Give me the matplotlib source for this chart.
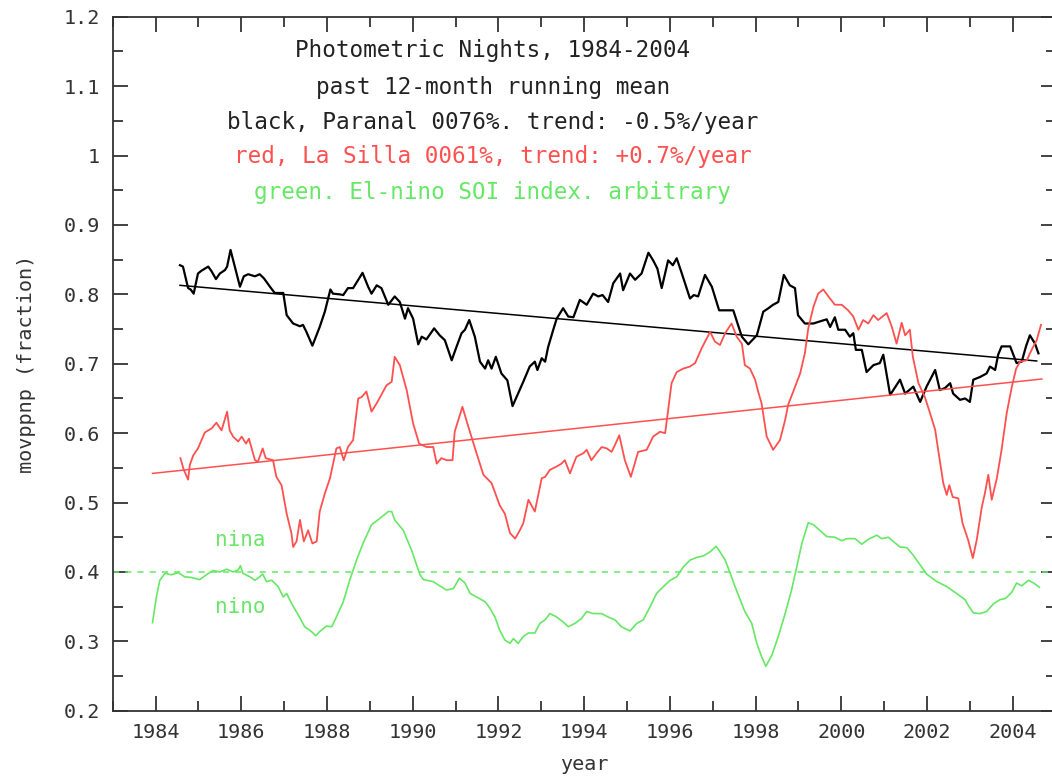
# Photometric nights, Paranal / La Silla vs El-nino SOI
import numpy as np
import matplotlib
matplotlib.use('Agg')
import matplotlib.pyplot as plt
from matplotlib.ticker import MultipleLocator, FuncFormatter

# black: Paranal 12-month running mean
paranal_year = [1984.57, 1984.64, 1984.76, 1984.82, 1984.89, 1984.99, 1985.07, 1985.23, 1985.31, 1985.41,
                1985.50, 1985.62, 1985.67, 1985.75, 1985.85, 1985.97, 1986.06, 1986.16, 1986.32, 1986.43,
                1986.53, 1986.67, 1986.78, 1986.98, 1987.06, 1987.21, 1987.37, 1987.44, 1987.52, 1987.66,
                1987.83, 1987.95, 1988.08, 1988.14, 1988.30, 1988.38, 1988.49, 1988.61, 1988.83, 1988.96,
                1989.04, 1989.16, 1989.27, 1989.43, 1989.58, 1989.70, 1989.82, 1989.89, 1990.01, 1990.13,
                1990.21, 1990.32, 1990.50, 1990.63, 1990.75, 1990.91, 1991.02, 1991.14, 1991.22, 1991.32,
                1991.45, 1991.57, 1991.69, 1991.76, 1991.84, 1991.94, 1992.07, 1992.21, 1992.33, 1992.46,
                1992.58, 1992.73, 1992.85, 1992.91, 1993.01, 1993.09, 1993.16, 1993.28, 1993.36, 1993.51,
                1993.63, 1993.75, 1993.90, 1994.06, 1994.21, 1994.33, 1994.43, 1994.56, 1994.68, 1994.84,
                1994.91, 1995.07, 1995.19, 1995.34, 1995.50, 1995.61, 1995.71, 1995.81, 1995.96, 1996.07,
                1996.16, 1996.28, 1996.47, 1996.56, 1996.66, 1996.82, 1996.98, 1997.15, 1997.48, 1997.68,
                1997.83, 1998.03, 1998.18, 1998.30, 1998.41, 1998.53, 1998.66, 1998.80, 1998.92, 1998.99,
                1999.15, 1999.35, 1999.50, 1999.66, 1999.74, 1999.85, 1999.93, 2000.09, 2000.20, 2000.28,
                2000.34, 2000.48, 2000.59, 2000.75, 2000.90, 2000.98, 2001.14, 2001.37, 2001.49, 2001.68,
                2001.84, 2001.99, 2002.19, 2002.30, 2002.42, 2002.54, 2002.61, 2002.77, 2002.89, 2003.00,
                2003.08, 2003.24, 2003.39, 2003.47, 2003.59, 2003.66, 2003.74, 2003.94, 2004.09, 2004.21,
                2004.31, 2004.40, 2004.52, 2004.60]
paranal = [0.842, 0.840, 0.809, 0.807, 0.801, 0.830, 0.834, 0.840, 0.833, 0.822,
           0.830, 0.835, 0.840, 0.864, 0.840, 0.811, 0.826, 0.829, 0.826, 0.829,
           0.823, 0.811, 0.802, 0.802, 0.770, 0.758, 0.754, 0.756, 0.746, 0.726,
           0.753, 0.775, 0.807, 0.801, 0.800, 0.799, 0.809, 0.809, 0.831, 0.811,
           0.801, 0.813, 0.809, 0.785, 0.797, 0.789, 0.765, 0.780, 0.765, 0.728,
           0.739, 0.735, 0.751, 0.741, 0.734, 0.705, 0.724, 0.744, 0.749, 0.763,
           0.739, 0.703, 0.693, 0.705, 0.693, 0.710, 0.686, 0.676, 0.639, 0.657,
           0.674, 0.696, 0.703, 0.691, 0.708, 0.703, 0.724, 0.749, 0.765, 0.780,
           0.768, 0.767, 0.792, 0.785, 0.801, 0.797, 0.799, 0.789, 0.816, 0.830,
           0.806, 0.830, 0.821, 0.830, 0.860, 0.849, 0.837, 0.809, 0.849, 0.842,
           0.852, 0.830, 0.794, 0.799, 0.797, 0.828, 0.811, 0.777, 0.777, 0.739,
           0.728, 0.741, 0.775, 0.780, 0.785, 0.789, 0.828, 0.813, 0.809, 0.770,
           0.758, 0.758, 0.761, 0.764, 0.753, 0.767, 0.749, 0.749, 0.739, 0.744,
           0.720, 0.720, 0.688, 0.698, 0.701, 0.713, 0.655, 0.677, 0.657, 0.667,
           0.645, 0.667, 0.691, 0.662, 0.665, 0.672, 0.657, 0.648, 0.650, 0.645,
           0.677, 0.681, 0.686, 0.696, 0.691, 0.713, 0.725, 0.725, 0.701, 0.703,
           0.725, 0.741, 0.729, 0.715]

# red: La Silla 12-month running mean
lasilla_year = [1984.58, 1984.66, 1984.76, 1984.80, 1984.88, 1984.99, 1985.15, 1985.31, 1985.42, 1985.54,
                1985.67, 1985.73, 1985.81, 1985.93, 1986.01, 1986.11, 1986.18, 1986.32, 1986.39, 1986.50,
                1986.57, 1986.74, 1986.82, 1986.94, 1987.06, 1987.17, 1987.21, 1987.29, 1987.37, 1987.46,
                1987.56, 1987.66, 1987.76, 1987.83, 1987.95, 1988.07, 1988.22, 1988.30, 1988.39, 1988.49,
                1988.61, 1988.73, 1988.81, 1988.92, 1989.04, 1989.16, 1989.39, 1989.51, 1989.58, 1989.70,
                1989.86, 1990.01, 1990.15, 1990.32, 1990.48, 1990.56, 1990.67, 1990.79, 1990.93, 1990.98,
                1991.16, 1991.30, 1991.49, 1991.65, 1991.84, 1992.03, 1992.15, 1992.27, 1992.39, 1992.50,
                1992.58, 1992.70, 1992.85, 1993.01, 1993.09, 1993.20, 1993.36, 1993.47, 1993.55, 1993.67,
                1993.82, 1993.98, 1994.06, 1994.17, 1994.29, 1994.41, 1994.53, 1994.64, 1994.72, 1994.82,
                1994.95, 1995.09, 1995.26, 1995.46, 1995.61, 1995.77, 1995.89, 1995.96, 1996.04, 1996.16,
                1996.31, 1996.47, 1996.59, 1996.74, 1996.94, 1997.05, 1997.17, 1997.29, 1997.44, 1997.56,
                1997.68, 1997.75, 1997.87, 1997.99, 1998.06, 1998.14, 1998.26, 1998.41, 1998.57, 1998.69,
                1998.76, 1998.88, 1999.04, 1999.15, 1999.23, 1999.35, 1999.46, 1999.58, 1999.70, 1999.85,
                2000.01, 2000.16, 2000.28, 2000.40, 2000.51, 2000.63, 2000.75, 2000.86, 2001.06, 2001.18,
                2001.29, 2001.41, 2001.49, 2001.60, 2001.67, 2001.80, 2001.95, 2002.07, 2002.19, 2002.26,
                2002.38, 2002.46, 2002.52, 2002.60, 2002.73, 2002.83, 2002.96, 2003.07, 2003.16, 2003.28,
                2003.35, 2003.43, 2003.51, 2003.63, 2003.74, 2003.86, 2003.98, 2004.08, 2004.17, 2004.33,
                2004.44, 2004.56, 2004.66]
lasilla = [0.564, 0.547, 0.533, 0.554, 0.568, 0.578, 0.601, 0.607, 0.615, 0.604,
           0.631, 0.604, 0.595, 0.588, 0.595, 0.585, 0.592, 0.561, 0.559, 0.578,
           0.564, 0.561, 0.537, 0.525, 0.484, 0.456, 0.436, 0.444, 0.475, 0.444,
           0.460, 0.441, 0.444, 0.487, 0.513, 0.535, 0.578, 0.580, 0.561, 0.580,
           0.590, 0.650, 0.652, 0.660, 0.631, 0.643, 0.669, 0.674, 0.710, 0.698,
           0.662, 0.614, 0.585, 0.580, 0.580, 0.556, 0.564, 0.561, 0.561, 0.602,
           0.638, 0.609, 0.571, 0.540, 0.528, 0.496, 0.484, 0.456, 0.448, 0.460,
           0.470, 0.504, 0.487, 0.535, 0.537, 0.547, 0.552, 0.556, 0.561, 0.542,
           0.566, 0.571, 0.576, 0.561, 0.571, 0.580, 0.578, 0.573, 0.583, 0.597,
           0.561, 0.537, 0.573, 0.576, 0.595, 0.602, 0.600, 0.633, 0.672, 0.688,
           0.693, 0.696, 0.701, 0.722, 0.746, 0.732, 0.727, 0.744, 0.758, 0.739,
           0.729, 0.698, 0.693, 0.677, 0.660, 0.643, 0.595, 0.576, 0.590, 0.619,
           0.641, 0.660, 0.686, 0.715, 0.751, 0.782, 0.801, 0.807, 0.797, 0.785,
           0.785, 0.777, 0.768, 0.749, 0.763, 0.758, 0.770, 0.763, 0.773, 0.753,
           0.729, 0.759, 0.741, 0.749, 0.710, 0.672, 0.652, 0.629, 0.605, 0.576,
           0.528, 0.511, 0.525, 0.508, 0.506, 0.470, 0.446, 0.420, 0.446, 0.494,
           0.513, 0.540, 0.504, 0.535, 0.576, 0.629, 0.667, 0.693, 0.703, 0.705,
           0.720, 0.734, 0.756]

# green: El-nino SOI index (arbitrary scale)
soi_year = [1983.93, 1984.02, 1984.10, 1984.22, 1984.37, 1984.53, 1984.68, 1984.84, 1985.03, 1985.19,
            1985.34, 1985.50, 1985.66, 1985.81, 1985.93, 1985.98, 1986.04, 1986.20, 1986.32, 1986.43,
            1986.50, 1986.59, 1986.71, 1986.86, 1986.98, 1987.06, 1987.17, 1987.33, 1987.48, 1987.64,
            1987.74, 1987.83, 1987.99, 1988.11, 1988.22, 1988.38, 1988.53, 1988.69, 1988.84, 1989.04,
            1989.23, 1989.43, 1989.51, 1989.58, 1989.78, 1989.97, 1990.17, 1990.25, 1990.48, 1990.63,
            1990.79, 1990.95, 1991.09, 1991.22, 1991.34, 1991.49, 1991.69, 1991.80, 1991.92, 1992.03,
            1992.15, 1992.27, 1992.35, 1992.46, 1992.58, 1992.70, 1992.85, 1992.97, 1993.09, 1993.20,
            1993.36, 1993.51, 1993.63, 1993.79, 1993.94, 1994.06, 1994.21, 1994.41, 1994.56, 1994.72,
            1994.87, 1995.07, 1995.23, 1995.38, 1995.54, 1995.69, 1995.85, 1996.01, 1996.16, 1996.31,
            1996.47, 1996.63, 1996.78, 1996.94, 1997.08, 1997.17, 1997.29, 1997.41, 1997.52, 1997.64,
            1997.75, 1997.91, 1998.03, 1998.14, 1998.24, 1998.38, 1998.53, 1998.69, 1998.84, 1998.96,
            1999.08, 1999.23, 1999.35, 1999.50, 1999.66, 1999.85, 2000.01, 2000.13, 2000.32, 2000.48,
            2000.63, 2000.83, 2000.94, 2001.10, 2001.21, 2001.37, 2001.53, 2001.68, 2001.84, 2001.99,
            2002.23, 2002.46, 2002.69, 2002.89, 2002.96, 2003.08, 2003.24, 2003.39, 2003.55, 2003.70,
            2003.84, 2003.98, 2004.09, 2004.21, 2004.37, 2004.49, 2004.62]
soi = [0.327, 0.364, 0.388, 0.398, 0.396, 0.399, 0.393, 0.392, 0.389, 0.396,
       0.402, 0.400, 0.404, 0.400, 0.403, 0.409, 0.398, 0.393, 0.388, 0.393,
       0.397, 0.386, 0.388, 0.379, 0.364, 0.369, 0.355, 0.338, 0.321, 0.314,
       0.308, 0.314, 0.322, 0.321, 0.335, 0.357, 0.388, 0.417, 0.441, 0.468,
       0.477, 0.487, 0.487, 0.475, 0.460, 0.432, 0.396, 0.389, 0.386, 0.380,
       0.374, 0.376, 0.391, 0.384, 0.369, 0.364, 0.357, 0.348, 0.335, 0.316,
       0.302, 0.297, 0.304, 0.297, 0.307, 0.312, 0.312, 0.326, 0.331, 0.340,
       0.335, 0.328, 0.321, 0.326, 0.333, 0.343, 0.340, 0.340, 0.335, 0.331,
       0.321, 0.315, 0.326, 0.331, 0.350, 0.369, 0.379, 0.388, 0.393, 0.407,
       0.417, 0.421, 0.423, 0.429, 0.437, 0.429, 0.417, 0.398, 0.379, 0.360,
       0.343, 0.326, 0.297, 0.278, 0.264, 0.280, 0.307, 0.340, 0.374, 0.407,
       0.441, 0.471, 0.468, 0.460, 0.451, 0.450, 0.445, 0.448, 0.448, 0.440,
       0.447, 0.453, 0.448, 0.450, 0.444, 0.436, 0.435, 0.424, 0.410, 0.397,
       0.386, 0.379, 0.369, 0.360, 0.352, 0.341, 0.340, 0.343, 0.354, 0.360,
       0.362, 0.371, 0.384, 0.380, 0.388, 0.384, 0.378]

# linear trend end points
paranal_trend_year = [1984.57, 2004.56]
paranal_trend = [0.813, 0.704]
lasilla_trend_year = [1983.93, 2004.68]
lasilla_trend = [0.542, 0.678]
soi_zero = 0.4

RED = '#ff5050'
GREEN = '#66e866'
MONO = 'DejaVu Sans Mono'

fig = plt.figure(figsize=(10.52, 7.76), dpi=100)
ax = fig.add_axes([0.1071, 0.0841, 0.8963, 0.8943])

ax.plot(paranal_year, paranal, color='black', lw=1.6)
ax.plot(paranal_trend_year, paranal_trend, color='black', lw=1.1)
ax.plot(lasilla_year, lasilla, color=RED, lw=1.3)
ax.plot(lasilla_trend_year, lasilla_trend, color=RED, lw=1.1)
ax.plot(soi_year, soi, color=GREEN, lw=1.2)
ax.axhline(soi_zero, color=GREEN, lw=1.1, ls=(0, (4, 4)))

ax.set_xlim(1983, 2005)
ax.set_ylim(0.2, 1.2)
ax.xaxis.set_major_locator(MultipleLocator(2))
ax.xaxis.set_minor_locator(MultipleLocator(1))
ax.yaxis.set_major_locator(MultipleLocator(0.1))
ax.yaxis.set_minor_locator(MultipleLocator(0.05))
ax.yaxis.set_major_formatter(FuncFormatter(lambda v, p: '%g' % round(v, 2)))
ax.tick_params(which='both', direction='in', top=True, right=True, colors='#222222',
               labelcolor='#333333', labelsize=14.5, width=1.2)
ax.tick_params(which='major', length=11, pad=9)
ax.tick_params(which='minor', length=7)
for lab in ax.get_xticklabels() + ax.get_yticklabels():
    lab.set_family(MONO)
for s in ax.spines.values():
    s.set_color('#333333')
    s.set_linewidth(1.3)

ax.set_xlabel('year', family=MONO, fontsize=14.5, color='#333333', labelpad=9)
ax.set_ylabel('movppnp (fraction)', family=MONO, fontsize=14.5, color='#333333', labelpad=20)

tx = 1991.87
lines = [('Photometric Nights, 1984-2004', '#222222', 1.152),
         ('past 12-month running mean', '#222222', 1.0986),
         ('black, Paranal 0076%. trend: -0.5%/year', '#222222', 1.0483),
         ('red, La Silla 0061%, trend: +0.7%/year', RED, 0.998),
         ('green. El-nino SOI index. arbitrary', GREEN, 0.9474)]
for txt, col, yy in lines:
    ax.text(tx, yy, txt, color=col, family=MONO, fontsize=16.3, ha='center', va='center')

ax.text(1985.97, 0.446, 'nina', color=GREEN, family=MONO, fontsize=15, ha='center', va='center')
ax.text(1985.97, 0.349, 'nino', color=GREEN, family=MONO, fontsize=15, ha='center', va='center')

fig.savefig('out.png', dpi=100)
